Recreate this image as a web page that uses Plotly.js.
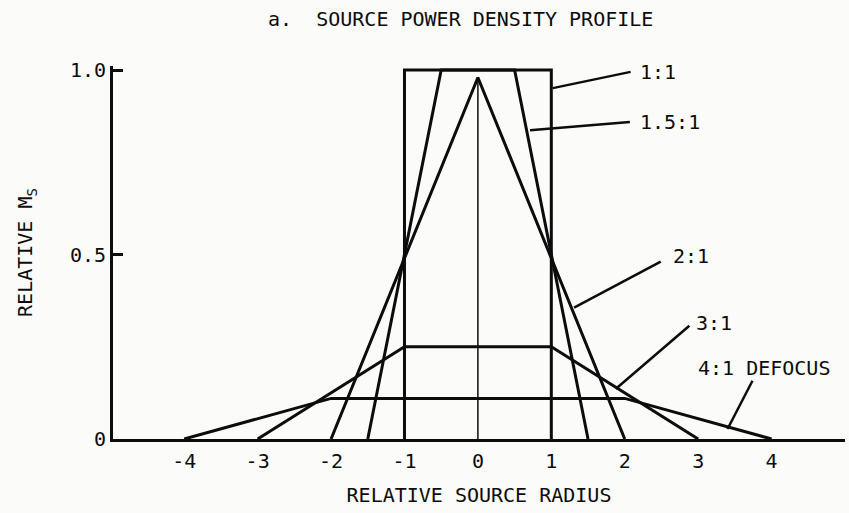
<!DOCTYPE html>
<html>
<head>
<meta charset="utf-8">
<script src="https://cdn.plot.ly/plotly-3.0.1.min.js"></script>
<style>
  html, body { margin: 0; padding: 0; background: #fbfbf9; }
  #chart { width: 849px; height: 513px; }
</style>
</head>
<body>
<div id="chart"></div>
<script>
// profile outlines (relative radius, relative Ms)
const ratio11X = [-1, -1, 1, 1];
const ratio11Y = [0, 1, 1, 0];
const ratio15X = [-1.5, -0.5, 0.5, 1.5];
const ratio15Y = [0, 1, 1, 0];
const ratio2X = [-2, 0, 2];
const ratio2Y = [0, 0.98, 0];
const ratio3X = [-3, -1, 1, 3];
const ratio3Y = [0, 0.25, 0.25, 0];
const ratio4X = [-4, -2, 2, 4];
const ratio4Y = [0, 0.11, 0.11, 0];
const centerX = [0, 0];
const centerY = [0, 0.98];

const profileLabels = ['1:1', '1.5:1', '2:1', '3:1', '4:1 DEFOCUS'];
const xTicks = [-4, -3, -2, -1, 0, 1, 2, 3, 4];
const xTickText = ['-4', '-3', '-2', '-1', '0', '1', '2', '3', '4'];
const yTicks = [0, 0.5, 1];
const yTickText = ['0', '0.5', '1.0'];

const FONT = 'DejaVu Sans Mono, monospace';
const INK = '#0c0c0c';
const FS = 20;

function profile(x, y, name, w) {
    return {
        x: x, y: y, name: name,
        type: 'scatter', mode: 'lines',
        line: {color: INK, width: w},
        hoverinfo: 'skip'
    };
}

const traces = [
    profile(centerX, centerY, 'axis', 1.5),
    profile(ratio11X, ratio11Y, profileLabels[0], 3),
    profile(ratio15X, ratio15Y, profileLabels[1], 3),
    profile(ratio2X, ratio2Y, profileLabels[2], 3),
    profile(ratio3X, ratio3Y, profileLabels[3], 3),
    profile(ratio4X, ratio4Y, profileLabels[4], 3)
];

// leader line start (on curve), end (near text), text anchor
const callouts = [
    {from: [1.02, 0.951], to: [2.08, 0.995], at: [2.18, 0.995]},
    {from: [0.71, 0.837], to: [2.07, 0.859], at: [2.18, 0.859]},
    {from: [1.31, 0.356], to: [2.49, 0.481], at: [2.63, 0.497]},
    {from: [1.88, 0.136], to: [2.88, 0.307], at: [2.95, 0.315]},
    {from: [3.40, 0.027], to: [3.74, 0.158], at: [2.97, 0.193]}
];

const shapes = callouts.map(c => ({
    type: 'line', xref: 'x', yref: 'y',
    x0: c.from[0], y0: c.from[1], x1: c.to[0], y1: c.to[1],
    line: {color: INK, width: 2.5}
}));

const annotations = callouts.map((c, i) => ({
    x: c.at[0], y: c.at[1], xref: 'x', yref: 'y',
    text: profileLabels[i], showarrow: false,
    xanchor: 'left', yanchor: 'middle',
    font: {family: FONT, size: FS, color: INK}
}));

const layout = {
    width: 849, height: 513,
    paper_bgcolor: '#fbfbf9',
    plot_bgcolor: '#fbfbf9',
    showlegend: false,
    margin: {l: 113, r: 4, t: 66, b: 74},
    font: {family: FONT, size: FS, color: INK},
    title: {
        text: 'a.  SOURCE POWER DENSITY PROFILE',
        x: 0.475, xref: 'paper', xanchor: 'center',
        y: 0.963, yref: 'container', yanchor: 'middle',
        font: {family: FONT, size: FS, color: INK}
    },
    xaxis: {
        range: [-4.97, 5.0],
        tickvals: xTicks,
        ticktext: xTickText,
        ticks: '',
        showgrid: false, zeroline: false,
        showline: true, linecolor: INK, linewidth: 3,
        ticklabelstandoff: 2,
        title: {text: 'RELATIVE SOURCE RADIUS', standoff: 16,
                font: {family: FONT, size: FS, color: INK}}
    },
    yaxis: {
        range: [0, 1.011],
        tickvals: yTicks,
        ticktext: yTickText,
        ticks: 'inside', ticklen: 10, tickwidth: 3, tickcolor: INK,
        showgrid: false, zeroline: false,
        showline: true, linecolor: INK, linewidth: 3,
        ticklabelstandoff: 0,
        title: {text: 'RELATIVE M<sub>S</sub>', standoff: 32,
                font: {family: FONT, size: FS, color: INK}}
    },
    shapes: shapes,
    annotations: annotations
};

Plotly.newPlot('chart', traces, layout, {staticPlot: true, displayModeBar: false});
</script>
</body>
</html>
